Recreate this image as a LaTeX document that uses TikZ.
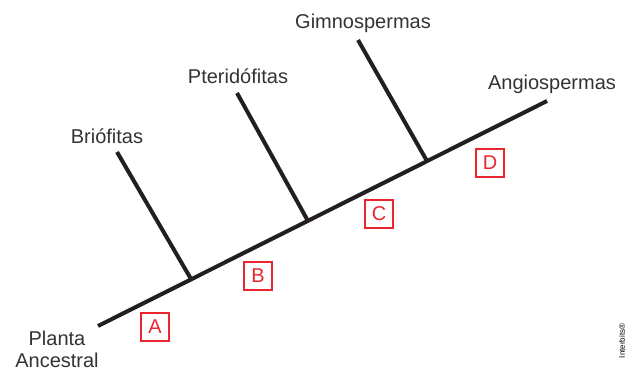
\documentclass[tikz,border=0pt]{standalone}
\usepackage{fontspec}
\setmainfont{Liberation Sans}
\usepackage{xcolor}
\definecolor{lineg}{HTML}{231F20}
\definecolor{textg}{HTML}{333333}
\definecolor{boxred}{HTML}{E8262E}

\begin{document}
\begin{tikzpicture}[
  x=1pt, y=-1pt,
  stem/.style={line width=4pt,draw=lineg},
  taxon/.style={text=textg,inner sep=0pt,font=\fontsize{20}{22}\selectfont},
  letterbox/.style={draw=boxred,text=boxred,line width=2pt,minimum size=28pt,inner sep=0pt,font=\fontsize{20}{22}\selectfont}
]
  \useasboundingbox (0,0) rectangle (630,372);
  \coordinate (root) at (98,326);
  \coordinate (tip) at (547,101);
  \coordinate (j1) at (191,279);
  \coordinate (j2) at (308,221);
  \coordinate (j3) at (427,161);
  \coordinate (t1) at (117,152);
  \coordinate (t2) at (237,93);
  \coordinate (t3) at (358,40);
  \draw[stem] (root) -- (tip);
  \draw[stem] (t1) -- (j1);
  \draw[stem] (t2) -- (j2);
  \draw[stem] (t3) -- (j3);
  \node[taxon] (n0) at (57,349) [align=center] {Planta\\Ancestral};
  \node[taxon] (n1) at (107,136) {Briófitas};
  \node[taxon] (n2) at (238,76) {Pteridófitas};
  \node[taxon] (n3) at (363,23) {Gimnospermas};
  \node[taxon] (n4) at (552,84) {Angiospermas};
  \node[letterbox] (bA) at (155,327) {A};
  \node[letterbox] (bB) at (258,276) {B};
  \node[letterbox] (bC) at (379,214) {C};
  \node[letterbox] (bD) at (490,163) {D};
  \node[text=black,inner sep=0pt,rotate=90,font=\fontsize{8}{9}\selectfont] (ib) at (622,341) {Interbits®};
\end{tikzpicture}
\end{document}
